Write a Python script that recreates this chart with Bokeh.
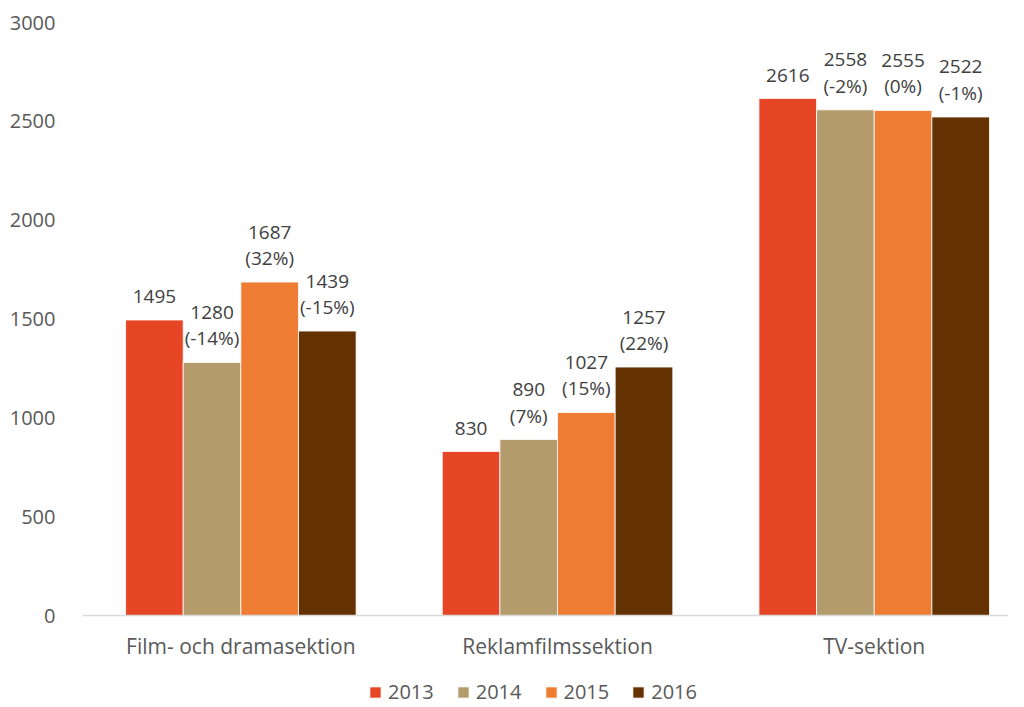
from bokeh.plotting import figure
from bokeh.models import (ColumnDataSource, Range1d, FixedTicker, Legend, LegendItem, Span)
from bokeh.core.properties import value
from bokeh.embed import file_html
from bokeh.resources import INLINE

categories = ["Film- och dramasektion", "Reklamfilmssektion", "TV-sektion"]
years = ["2013", "2014", "2015", "2016"]
v2013 = [1495, 830, 2616]
v2014 = [1280, 890, 2558]
v2015 = [1687, 1027, 2555]
v2016 = [1439, 1257, 2522]
p2014 = [-14, 7, -2]
p2015 = [32, 15, 0]
p2016 = [-15, 22, -1]
y_ticks = [0, 500, 1000, 1500, 2000, 2500, 3000]

colors = ["#E64626", "#B39B6C", "#EE7D33", "#643200"]
FONT = "Open Sans"
BAR_W = 0.182

# layout: 3000 -> 593 px; extra room of 90 px below zero for labels + legend
PLOT_PX = 593
BELOW_PX = 90
y_start = -3000 * BELOW_PX / PLOT_PX

p = figure(frame_width=926, frame_height=PLOT_PX + BELOW_PX, output_backend="svg",
           toolbar_location=None,
           x_range=Range1d(0, 2.924), y_range=Range1d(y_start, 3000),
           min_border_left=82, min_border_right=0, min_border_top=22,
           min_border_bottom=0)
p.outline_line_color = None
p.xgrid.visible = False
p.ygrid.visible = False
p.background_fill_color = "white"
p.border_fill_color = "white"

series = [v2013, v2014, v2015, v2016]
pcts = [None, p2014, p2015, p2016]
items = []
for i, (yr, vals, pc) in enumerate(zip(years, series, pcts)):
    off = (i - 1.5) * BAR_W
    xs = [k + 0.5 + off for k in range(len(categories))]
    src = ColumnDataSource(dict(x=xs, top=vals, label=[str(v) for v in vals]))
    r = p.vbar(x="x", top="top", width=BAR_W, bottom=0, source=src,
               fill_color=colors[i], line_color="white", line_width=0.8)
    if pc is None:
        p.text(x="x", y="top", text="label", source=src, text_align="center",
               text_baseline="middle", y_offset=-23, text_font=value(FONT),
               text_font_size="19px", text_color="#404040")
    else:
        psrc = ColumnDataSource(dict(x=xs, top=vals, label=[f"({q}%)" for q in pc]))
        p.text(x="x", y="top", text="label", source=src, text_align="center",
               text_baseline="middle", y_offset=-50, text_font=value(FONT),
               text_font_size="19px", text_color="#404040")
        p.text(x="x", y="top", text="label", source=psrc, text_align="center",
               text_baseline="middle", y_offset=-24, text_font=value(FONT),
               text_font_size="19px", text_color="#404040")
    items.append(LegendItem(label=yr, renderers=[r]))

# category axis: baseline line + category labels
p.xaxis.visible = False
p.add_layout(Span(location=0, dimension="width", line_color="#D9D9D9", line_width=1.5))
csrc = ColumnDataSource(dict(x=[k + 0.5 for k in range(len(categories))],
                             y=[0] * len(categories), label=categories))
p.text(x="x", y="y", text="label", source=csrc, text_align="center",
       text_baseline="middle", y_offset=30, text_font=value(FONT),
       text_font_size="21px", text_color="#595959")

p.yaxis.ticker = FixedTicker(ticks=y_ticks)
p.yaxis.axis_line_color = None
p.yaxis.major_tick_line_color = None
p.yaxis.minor_tick_line_color = None
p.yaxis.major_label_standoff = 21
p.yaxis.major_label_text_font = FONT
p.yaxis.major_label_text_font_size = "20px"
p.yaxis.major_label_text_color = "#595959"

legend = Legend(items=items, orientation="horizontal", location=(286, 0),
                glyph_width=14, glyph_height=14, label_standoff=6, spacing=22,
                padding=0, margin=0, border_line_color=None,
                background_fill_alpha=0, label_text_font=FONT,
                label_text_font_size="20px", label_text_color="#595959")
p.add_layout(legend, "center")

open("out.html", "w").write(file_html(p, INLINE))
